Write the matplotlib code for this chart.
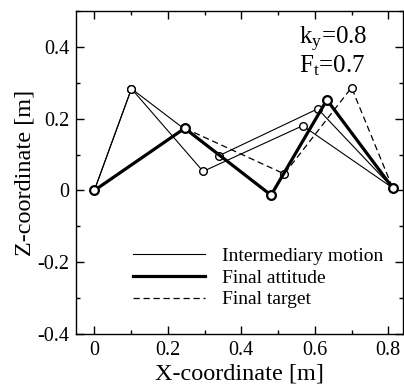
import matplotlib
matplotlib.use('Agg')
import matplotlib.pyplot as plt
from matplotlib.ticker import MultipleLocator

plt.rcParams['font.family'] = ['Liberation Serif', 'DejaVu Serif']
plt.rcParams['mathtext.fontset'] = 'custom'
plt.rcParams['mathtext.rm'] = 'Liberation Serif'
plt.rcParams['mathtext.it'] = 'Liberation Serif'

# ── Data ──────────────────────────────────────────────────
inter1_x = [0.0, 0.101, 0.296, 0.567, 0.812]
inter1_z = [0.0, 0.283, 0.053, 0.180, 0.007]
inter2_x = [0.0, 0.101, 0.340, 0.608, 0.812]
inter2_z = [0.0, 0.283, 0.097, 0.227, 0.007]
final_x = [0.0, 0.246, 0.481, 0.633, 0.812]
final_z = [0.0, 0.173, -0.013, 0.252, 0.007]
target_x = [0.0, 0.246, 0.517, 0.700, 0.812]
target_z = [0.0, 0.173, 0.046, 0.286, 0.007]

fig = plt.figure(figsize=(4.04, 3.89), dpi=100)
ax = fig.add_axes([0.188, 0.1406, 0.8095, 0.832])

thin = dict(color='black', lw=0.8, marker='o', ms=5.5, mfc='white',
            mec='black', mew=1.0)
ax.plot(inter1_x, inter1_z, **thin, zorder=2)
ax.plot(inter2_x, inter2_z, **thin, zorder=2)
ax.plot(target_x, target_z, color='black', lw=0.9, ls=(0, (5, 3)),
        marker='o', ms=5.5, mfc='white', mec='black', mew=1.0, zorder=3)
ax.plot(final_x, final_z, color='black', lw=2.3, marker='o', ms=6.3,
        mfc='white', mec='black', mew=1.6, zorder=4)

# legend (handles only, no markers)
h1, = ax.plot([], [], color='black', lw=0.8)
h2, = ax.plot([], [], color='black', lw=2.3)
h3, = ax.plot([], [], color='black', lw=0.9, ls=(0, (5, 3)))
ax.legend([h1, h2, h3], ['Intermediary motion', 'Final attitude', 'Final target'],
          loc='lower left', bbox_to_anchor=(0.145, 0.05), frameon=False,
          fontsize=14, handlelength=3.7, handletextpad=0.85,
          labelspacing=0.22, borderpad=0)

ax.text(0.556, 0.405, r'k$_\mathrm{y}$=0.8', fontsize=18, va='baseline')
ax.text(0.556, 0.327, r'F$_\mathrm{t}$=0.7', fontsize=18, va='baseline')

ax.set_xlim(-0.05, 0.84)
ax.set_ylim(-0.4, 0.5)
ax.xaxis.set_minor_locator(MultipleLocator(0.1))
ax.yaxis.set_minor_locator(MultipleLocator(0.1))
ax.set_xticks([0, 0.2, 0.4, 0.6, 0.8])
ax.set_xticklabels(['0', '0.2', '0.4', '0.6', '0.8'])
ax.set_yticks([-0.4, -0.2, 0, 0.2, 0.4])
ax.set_yticklabels(['-0.4', '-0.2', '0', '0.2', '0.4'])
ax.tick_params(which='both', direction='in', top=True, right=True,
               labelsize=14.5, width=1.0, pad=5)
ax.tick_params(which='major', length=6)
ax.tick_params(which='minor', length=3)
for s in ax.spines.values():
    s.set_linewidth(1.0)

ax.set_xlabel('X-coordinate [m]', fontsize=17.5, labelpad=2)
ax.set_ylabel('Z-coordinate [m]', fontsize=17.5, labelpad=1)

fig.savefig('out.png', dpi=100)
